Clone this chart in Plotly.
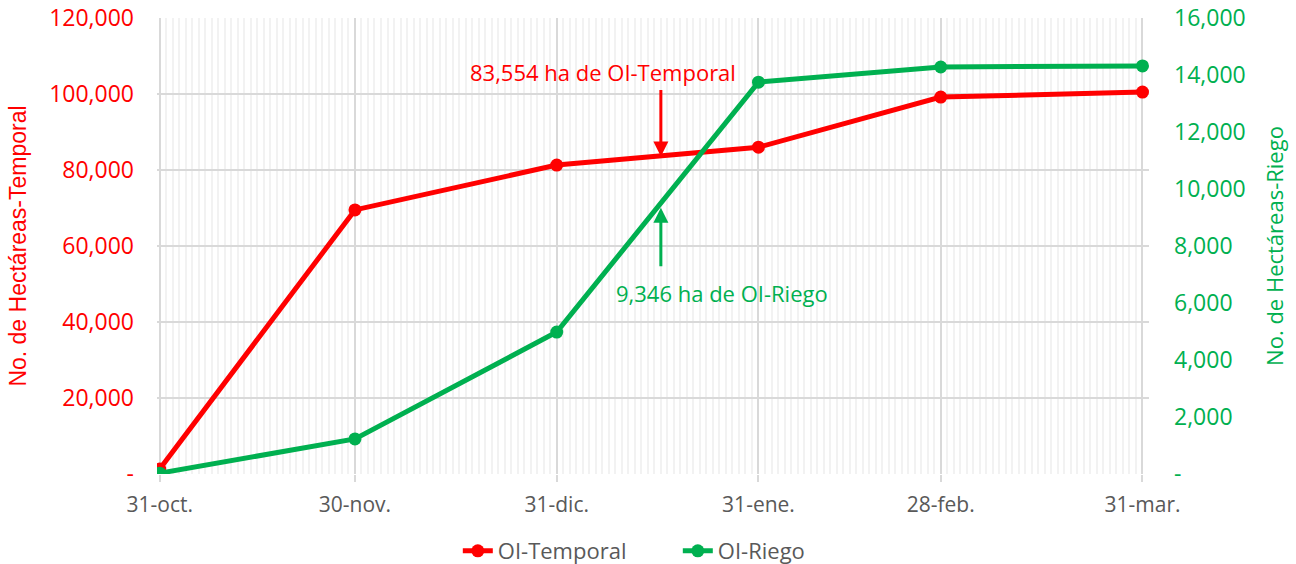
import plotly.graph_objects as go

dates = ["2024-10-31", "2024-11-30", "2024-12-31", "2025-01-31", "2025-02-28", "2025-03-31"]
tick_labels = ["31-oct.", "30-nov.", "31-dic.", "31-ene.", "28-feb.", "31-mar."]
temporal = [1300, 69500, 81300, 86000, 99200, 100500]
riego = [30, 1230, 4980, 13750, 14280, 14320]

ann_date = "2025-01-16"
ann_temporal = 83554
ann_riego = 9346

left_ticks = [0, 20000, 40000, 60000, 80000, 100000, 120000]
left_text = ["-", "20,000", "40,000", "60,000", "80,000", "100,000", "120,000"]
right_ticks = [0, 2000, 4000, 6000, 8000, 10000, 12000, 14000, 16000]
right_text = ["-", "2,000", "4,000", "6,000", "8,000", "10,000", "12,000", "14,000", "16,000"]

RED = "#FF0000"
GREEN = "#00B050"
GRAY = "#595959"
FONT = "Open Sans"

fig = go.Figure()
fig.add_trace(go.Scatter(x=dates, y=temporal, name="OI-Temporal", mode="lines+markers",
                         line=dict(color=RED, width=5), marker=dict(size=13, color=RED), yaxis="y"))
fig.add_trace(go.Scatter(x=dates, y=riego, name="OI-Riego", mode="lines+markers",
                         line=dict(color=GREEN, width=5), marker=dict(size=13, color=GREEN), yaxis="y2"))

fig.update_layout(
    width=1296, height=564,
    margin=dict(l=157, r=147, t=18, b=90),
    plot_bgcolor="white", paper_bgcolor="white",
    font=dict(family=FONT, size=22, color=GRAY),
    xaxis=dict(
        type="date", automargin=False,
        range=["2024-10-30 14:00", "2025-04-01 00:00"],
        tickvals=dates, ticktext=tick_labels,
        tickfont=dict(size=21, color=GRAY),
        showgrid=True, gridcolor="#D9D9D9", gridwidth=1.5,
        minor=dict(dtick=86400000, tick0="2024-10-31", showgrid=True, gridcolor="#F2F2F2", gridwidth=1.5),
        zeroline=False, ticks="outside", ticklen=7, tickcolor="#D9D9D9", tickwidth=1.5,
        ticklabelstandoff=5,
    ),
    yaxis=dict(
        automargin=False,
        range=[0, 120000], tickvals=left_ticks, ticktext=left_text,
        tickfont=dict(size=23, color=RED),
        showgrid=True, gridcolor="#D9D9D9", gridwidth=1.5, zeroline=False,
        ticklabelstandoff=22,
        title=dict(text="No. de Hectáreas-Temporal", font=dict(family="Liberation Sans", size=23, color=RED), standoff=16),
    ),
    yaxis2=dict(
        automargin=False,
        range=[0, 16000], tickvals=right_ticks, ticktext=right_text,
        overlaying="y", side="right",
        tickfont=dict(size=23, color=GREEN),
        showgrid=False, zeroline=False,
        ticklabelstandoff=24,
        title=dict(text="No. de Hectáreas-Riego", font=dict(family=FONT, size=22, color=GREEN), standoff=22),
    ),
    legend=dict(orientation="h", x=0.523, xanchor="center", xref="container",
                y=0.023, yanchor="middle", yref="container",
                entrywidth=175, entrywidthmode="pixels",
                font=dict(size=22, color=GRAY)),
    showlegend=True,
)

# Temporal annotation
fig.add_annotation(x=ann_date, y=ann_temporal, xref="x", yref="y", text="", showarrow=True,
                   ax=0, ay=-68, arrowhead=2, arrowsize=1, arrowwidth=3, arrowcolor=RED)
fig.add_annotation(x=ann_date, y=ann_temporal, xref="x", yref="y",
                   text="83,554 ha de OI-Temporal", showarrow=False,
                   xshift=-58, yshift=84, font=dict(size=22, color=RED))
# Riego annotation
fig.add_annotation(x=ann_date, y=ann_riego, xref="x", yref="y2", text="", showarrow=True,
                   ax=0, ay=60, arrowhead=2, arrowsize=1, arrowwidth=3, arrowcolor=GREEN)
fig.add_annotation(x=ann_date, y=ann_riego, xref="x", yref="y2",
                   text="9,346 ha de OI-Riego", showarrow=False,
                   xshift=61, yshift=-85, font=dict(size=22, color=GREEN))

fig.write_html("out.html", config={"displayModeBar": False},
               post_script="document.body.style.margin='0';")
